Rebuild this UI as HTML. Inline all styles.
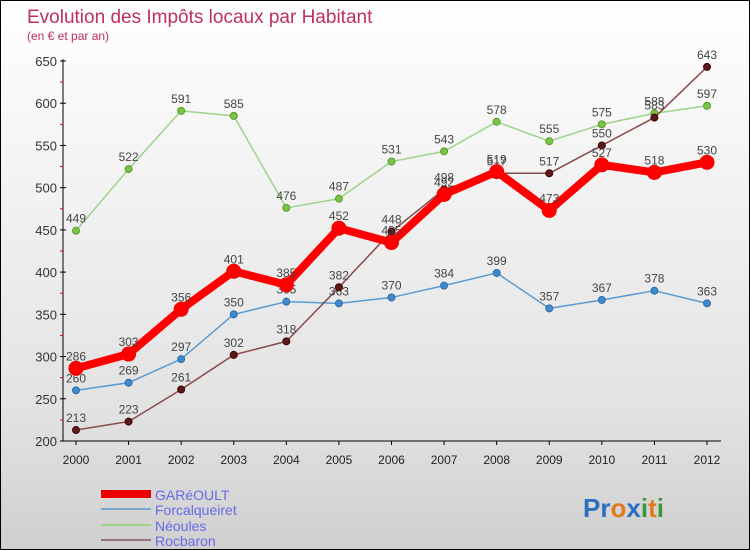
<!DOCTYPE html>
<html><head><meta charset="utf-8"><style>
body{margin:0}
#c{width:750px;height:550px;position:relative;box-sizing:border-box;border:1px solid #000;background:linear-gradient(#fff 0%,#f0f0f0 40%,#e2e2e2 75%,#cfcfcf 100%);font-family:"Liberation Sans","DejaVu Sans",sans-serif;overflow:hidden}
</style></head><body>
<div id="c">
<svg id="s" width="750" height="550" style="position:absolute;left:0;top:0">
<text x="26" y="22" font-size="19" fill="#c0305a">Evolution des Impôts locaux par Habitant</text>
<text x="26" y="39" font-size="12" fill="#c0305a">(en € et par an)</text>
<g id="ax"></g><g id="ser"></g>
<g>
<rect x="100" y="489" width="50" height="8" fill="#e00"/>
<text x="154" y="499" font-size="14" fill="#6a6ae8">GARéOULT</text>
<line x1="100" y1="508" x2="150" y2="508" stroke="#7aa8cc" stroke-width="2"/>
<text x="154" y="514" font-size="14" fill="#6a6ae8">Forcalqueiret</text>
<line x1="100" y1="524" x2="150" y2="524" stroke="#9ed38a" stroke-width="2"/>
<text x="154" y="530" font-size="14" fill="#6a6ae8">Néoules</text>
<line x1="100" y1="539" x2="150" y2="539" stroke="#957575" stroke-width="2"/>
<text x="154" y="545" font-size="14" fill="#6a6ae8">Rocbaron</text>
</g>
<g font-size="26" font-weight="bold">
<text x="582" y="516"><tspan fill="#2b6fc0">Pr</tspan><tspan fill="#e07b20">o</tspan><tspan fill="#2b6fc0">x</tspan><tspan fill="#3a9a3a">i</tspan><tspan fill="#e07b20">t</tspan><tspan fill="#3a9a3a">i</tspan></text>
</g>
</svg>
</div>
<script>
const years=[2000,2001,2002,2003,2004,2005,2006,2007,2008,2009,2010,2011,2012];
const gareoult=[286,303,356,401,385,452,435,492,519,473,527,518,530];
const forcalqueiret=[260,269,297,350,365,363,370,384,399,357,367,378,363];
const neoules=[449,522,591,585,476,487,531,543,578,555,575,588,597];
const rocbaron=[213,223,261,302,318,382,448,498,517,517,550,583,643];
const yTicks=[200,250,300,350,400,450,500,550,600,650];
const NS='http://www.w3.org/2000/svg';
const X=i=>75+i*(706-75)/(years.length-1);
const Y=v=>440-(v-200)*380/450;
function mk(t,a,p){const e=document.createElementNS(NS,t);for(const k in a)e.setAttribute(k,a[k]);p.appendChild(e);return e;}
const ax=document.getElementById('ax'),ser=document.getElementById('ser');
const yl=mk('line',{x1:62,y1:58,x2:62,y2:440,stroke:'#000'},ax);


const xl=mk('line',{x1:62,y1:440,x2:720,y2:440,stroke:'#000'},ax);


yTicks.forEach((v,i)=>{
 mk('line',{x1:59,y1:Y(v),x2:65,y2:Y(v),stroke:'#000'},ax);
 if(i<yTicks.length-1)mk('line',{x1:59,y1:Y(v+25),x2:62,y2:Y(v+25),stroke:'#e00'},ax);
 const t=mk('text',{x:56,y:Y(v)+5,'font-size':13,fill:'#333','text-anchor':'end'},ax);t.textContent=v;
 
 
});
years.forEach((y,i)=>{
 mk('line',{x1:X(i),y1:440,x2:X(i),y2:444,stroke:'#000'},ax);
 const t=mk('text',{x:X(i),y:463,'font-size':12,fill:'#222','text-anchor':'middle'},ax);t.textContent=y;
 
 
});
function draw(vals,name,col,dot,lw,r,lc){
 const g=mk('g',{},ser);
 
 
 mk('polyline',{points:vals.map((v,i)=>X(i)+','+Y(v)).join(' '),fill:'none',stroke:col,'stroke-width':lw,'stroke-linejoin':'round'},g);
 vals.forEach((v,i)=>{
  const c=mk('circle',{cx:X(i),cy:Y(v),r:r,fill:dot,stroke:lc,'stroke-width':1},g);
  
  
  const t=mk('text',{x:X(i),y:Y(v)-8,'font-size':12,fill:'#444','text-anchor':'middle'},g);t.textContent=v;
  
  
 });
}
draw(neoules,'neoules','#9ed38a','#7cc444',1.5,3.5,'#5a9a30');
draw(forcalqueiret,'forcalqueiret','#5b9bd0','#3f8acc',1.5,3.5,'#2c6fa8');
draw(rocbaron,'rocbaron','#8a4a4a','#5a1a1a',1.5,3.5,'#400');
draw(gareoult,'gareoult','#f00','#f00',8,7,'#e00');
</script>
</body></html>
